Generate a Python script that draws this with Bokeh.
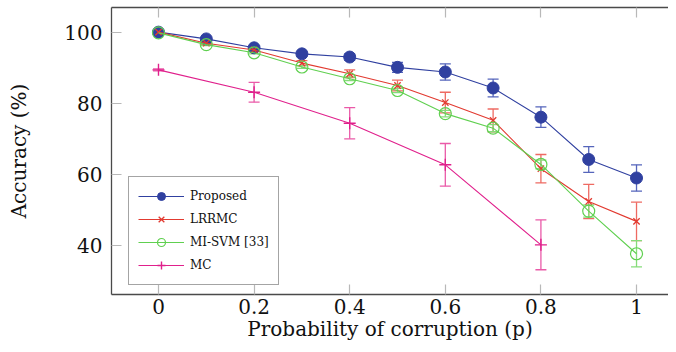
from bokeh.plotting import figure
from bokeh.models import (ColumnDataSource, Whisker, TeeHead, FixedTicker,
                          LinearAxis, Legend, LegendItem, Range1d)
from bokeh.embed import file_html
from bokeh.resources import INLINE

# ---- data ----
p_vals = [0.0, 0.1, 0.2, 0.3, 0.4, 0.5, 0.6, 0.7, 0.8, 0.9, 1.0]
proposed = [100.0, 98.1, 95.6, 93.9, 93.0, 90.1, 88.8, 84.3, 76.1, 64.2, 59.0]
proposed_err = [0.3, 0.5, 0.6, 0.7, 0.9, 1.4, 2.3, 2.5, 2.9, 3.6, 3.7]
lrrmc = [100.0, 96.9, 95.0, 91.3, 88.3, 85.0, 80.2, 75.2, 61.6, 52.4, 46.8]
lrrmc_err = [0.2, 0.3, 0.4, 0.7, 1.1, 1.5, 2.9, 3.2, 4.0, 4.8, 5.4]
misvm = [99.8, 96.5, 94.2, 90.2, 86.9, 83.6, 77.1, 73.0, 62.8, 49.7, 37.7]
misvm_err = [0.2, 0.3, 0.3, 0.4, 0.5, 0.6, 0.9, 1.0, 1.2, 1.7, 3.7]
mc_p = [0.0, 0.2, 0.4, 0.6, 0.8]
mc = [89.4, 83.1, 74.4, 62.7, 40.2]
mc_err = [0.3, 2.8, 4.4, 6.0, 7.0]

x_ticks = [0, 0.2, 0.4, 0.6, 0.8, 1]
x_tick_labels = ["0", "0.2", "0.4", "0.6", "0.8", "1"]
y_ticks = [40, 60, 80, 100]

names = ["Proposed", "LRRMC", "MI-SVM [33]", "MC"]
colors = ["#3040a0", "#e23a30", "#60d050", "#e0208c"]
err_colors = ["#5565bb", "#ee6a62", "#86dc7a", "#ea5aa8"]

FONT = "DejaVu Serif"
FRAME = "#4a4a4a"
TICK = "#b8b8b8"

fig = figure(width=668, height=344,
             x_range=Range1d(-0.0983, 1.0669), y_range=Range1d(26.24, 106.93),
             output_backend="svg", toolbar_location=None,
             min_border_left=111, min_border_right=0, min_border_top=7,
             min_border_bottom=50)
fig.outline_line_color = None
fig.xgrid.visible = False
fig.ygrid.visible = False
fig.background_fill_color = "white"
fig.border_fill_color = "white"

for ax in (fig.xaxis[0], fig.yaxis[0]):
    ax.major_tick_in = 10
    ax.major_tick_out = 0
    ax.minor_tick_line_color = None
    ax.major_tick_line_color = TICK
    ax.major_tick_line_width = 1.2
    ax.axis_line_color = FRAME
    ax.axis_line_width = 1.3
    ax.major_label_text_font = FONT
    ax.major_label_text_font_size = "20px"
    ax.major_label_text_color = "#111111"
    ax.axis_label_text_font = FONT
    ax.axis_label_text_font_size = "20px"
    ax.axis_label_text_font_style = "normal"
    ax.axis_label_text_color = "#111111"

fig.xaxis[0].ticker = FixedTicker(ticks=x_ticks)
fig.xaxis[0].major_label_overrides = {t: l for t, l in zip(x_ticks, x_tick_labels)}
fig.xaxis[0].major_label_standoff = 4
fig.xaxis[0].axis_label = "Probability of corruption (p)"
fig.xaxis[0].axis_label_standoff = 0

fig.yaxis[0].ticker = FixedTicker(ticks=y_ticks)
fig.yaxis[0].major_label_standoff = 9
fig.yaxis[0].axis_label = "Accuracy (%)"
fig.yaxis[0].axis_label_standoff = 30

# top frame edge with inward ticks (minor ticks only, so no labels)
top = LinearAxis(ticker=FixedTicker(ticks=[], minor_ticks=x_ticks))
top.major_tick_line_color = None
top.minor_tick_in = 10
top.minor_tick_out = 0
top.minor_tick_line_color = TICK
top.minor_tick_line_width = 1.2
top.axis_line_color = FRAME
top.axis_line_width = 1.3
top.major_label_standoff = 0
fig.add_layout(top, "above")

series = [
    (p_vals, proposed, proposed_err),
    (p_vals, lrrmc, lrrmc_err),
    (p_vals, misvm, misvm_err),
    (mc_p, mc, mc_err),
]

items = []
for i, (xs, ys, es) in enumerate(series):
    src = ColumnDataSource(dict(x=xs, y=ys,
                                lo=[y - e for y, e in zip(ys, es)],
                                hi=[y + e for y, e in zip(ys, es)]))
    w = Whisker(source=src, base="x", upper="hi", lower="lo", dimension="height",
                line_color=err_colors[i], line_width=1.3,
                upper_head=TeeHead(size=11, line_color=err_colors[i], line_width=1.3),
                lower_head=TeeHead(size=11, line_color=err_colors[i], line_width=1.3))
    fig.add_layout(w)
    ln = fig.line("x", "y", source=src, line_color=colors[i], line_width=1.1)
    if i == 0:
        mk = fig.scatter("x", "y", source=src, marker="circle", size=12,
                         fill_color=colors[i], line_color=colors[i])
    elif i == 1:
        mk = fig.scatter("x", "y", source=src, marker="x", size=9,
                         line_color=colors[i], line_width=1.3)
    elif i == 2:
        mk = fig.scatter("x", "y", source=src, marker="circle", size=12,
                         fill_color=None, line_color=colors[i], line_width=1.2)
    else:
        mk = fig.scatter("x", "y", source=src, marker="cross", size=12,
                         line_color=colors[i], line_width=1.4)
    items.append(LegendItem(label=names[i], renderers=[ln, mk]))

legend = Legend(items=items, location=(17, 9),
                label_text_font=FONT, label_text_font_size="12px",
                label_text_color="#111111",
                glyph_width=46, glyph_height=20, label_height=20,
                label_standoff=6, padding=9, spacing=3, margin=0,
                border_line_color=FRAME, border_line_width=1.2,
                background_fill_color="white", background_fill_alpha=1.0)
fig.add_layout(legend, "center")

open("out.html", "w").write(file_html(fig, INLINE))
